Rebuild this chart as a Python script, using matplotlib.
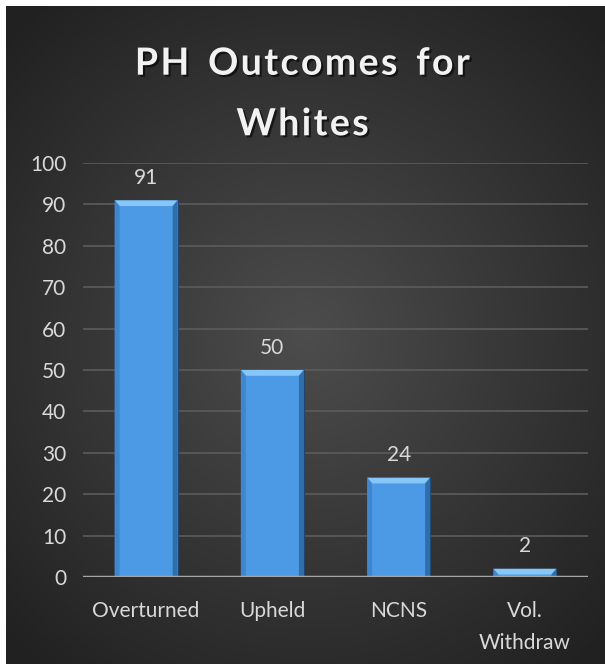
import numpy as np
import matplotlib.pyplot as plt
from matplotlib.patches import Polygon
import matplotlib.patheffects as pe

categories = ["Overturned", "Upheld", "NCNS", "Vol.\nWithdraw"]
counts = [91, 50, 24, 2]
yticks = [0, 10, 20, 30, 40, 50, 60, 70, 80, 90, 100]

plt.rcParams['font.family'] = ['Lato', 'DejaVu Sans']

W, H = 605, 664
fig = plt.figure(figsize=(W / 100, H / 100), dpi=100)
fig.patch.set_facecolor('white')

# dark panel with a soft radial glow
bg = fig.add_axes([6 / W, 0, 1 - 6 / W, 1 - 6 / H])
yy, xx = np.mgrid[0:658, 0:599]
r = np.sqrt(((xx - 300) / 420.0) ** 2 + ((yy - 330) / 430.0) ** 2)
shade = np.clip(0.30 - 0.17 * r, 0.13, 0.30)
bg.imshow(np.dstack([shade] * 3), aspect='auto', interpolation='bilinear')
bg.set_axis_off()

ax = fig.add_axes([83 / W, 87 / H, (588 - 83) / W, (577 - 163) / H])
ax.set_facecolor('none')
ax.set_ylim(0, 100)
ax.set_xlim(-0.5, len(categories) - 0.5)
ax.set_yticks(yticks)
ax.grid(axis='y', color='#5c5c5c', linewidth=1.2)
ax.set_axisbelow(True)
for s in ax.spines.values():
    s.set_visible(False)

x = np.arange(len(categories))
bw = 0.5
bars = ax.bar(x, counts, width=bw, color='#4c9ae6', edgecolor='#1d4670',
              linewidth=0.8, zorder=2)

# bevel on each bar: lighter top facet, shaded sides
bx = 0.04
by = 1.4
for b in bars:
    x0, h = b.get_x(), b.get_height()
    x1 = x0 + b.get_width()
    ax.add_patch(Polygon([(x0, h), (x1, h), (x1 - bx, h - by), (x0 + bx, h - by)],
                         closed=True, facecolor='#86c6f8', edgecolor='none', zorder=3))
    ax.add_patch(Polygon([(x0, 0), (x0, h), (x0 + bx, h - by), (x0 + bx, 0)],
                         closed=True, facecolor='#3f86cc', edgecolor='none', zorder=3))
    ax.add_patch(Polygon([(x1, 0), (x1, h), (x1 - bx, h - by), (x1 - bx, 0)],
                         closed=True, facecolor='#2f6dab', edgecolor='none', zorder=3))
    ax.annotate(str(int(h)), (b.get_x() + b.get_width() / 2, h),
                xytext=(0, 16), textcoords='offset points', ha='center', va='center',
                color='#d9d9d9', fontsize=15)

ax.axhline(0, color='#a6a6a6', linewidth=2.5, zorder=4)

ax.set_xticks(x)
ax.set_xticklabels(categories, linespacing=1.75)
ax.tick_params(axis='both', length=0, colors='#d9d9d9', labelsize=15)
ax.tick_params(axis='x', pad=17)
ax.tick_params(axis='y', pad=12)

fig.text(0.5, 1 - 94 / H, "P H   O u t c o m e s   f o r\nW h i t e s".replace("   ", "\u2002").replace(" ", "\u200a"),
         ha='center', va='center',
         color='#f2f2f2', fontsize=27, fontweight='bold', linespacing=1.95,
         path_effects=[pe.withSimplePatchShadow(offset=(1.5, -1.5), shadow_rgbFace='black', alpha=0.6)])

fig.savefig('out.png', dpi=100)
